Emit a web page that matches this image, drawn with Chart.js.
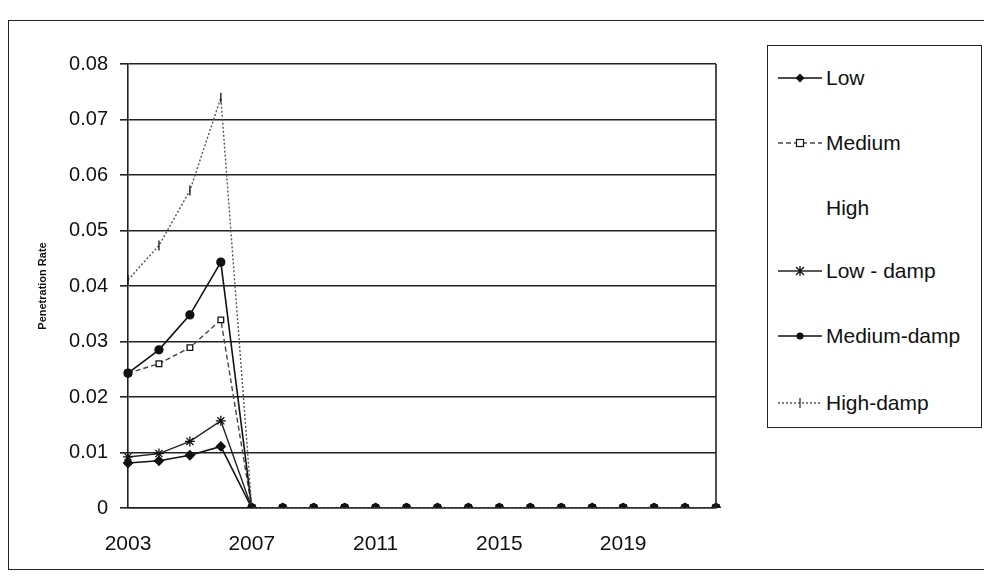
<!DOCTYPE html>
<html>
<head>
<meta charset="utf-8">
<script src="https://cdn.jsdelivr.net/npm/chart.js@4/dist/chart.umd.min.js"></script>
<style>
  html,body{margin:0;padding:0;background:#fff;}
  #wrap{position:relative;width:984px;height:587px;overflow:hidden;background:#fff;}
  #frame{position:absolute;left:8px;top:20px;width:990px;height:550px;border:1.5px solid #222;box-sizing:border-box;}
  #cv{position:absolute;left:0;top:0;}
  #legend{position:absolute;left:767px;top:45px;width:215px;height:383px;border:1.5px solid #222;box-sizing:border-box;background:#fff;font-family:"Liberation Sans",Arial,sans-serif;font-size:21px;color:#111;}
  .item{position:absolute;left:10px;height:24px;display:flex;align-items:center;}
  .item svg{width:44px;height:20px;flex:none;}
  .item span{margin-left:4px;white-space:nowrap;}
</style>
</head>
<body>
<div id="wrap">
  <div id="frame"></div>
  <canvas id="cv" width="984" height="587"></canvas>
  <div id="legend"></div>
</div>
<script>
// ---- data ----
const years = ['2003','2004','2005','2006','2007','2008','2009','2010','2011','2012','2013','2014','2015','2016','2017','2018','2019','2020','2021','2022'];
const low        = [0.0081,0.0085,0.0095,0.0111,0,0,0,0,0,0,0,0,0,0,0,0,0,0,0,0];
const medium     = [0.0243,0.0260,0.0289,0.0339,0,0,0,0,0,0,0,0,0,0,0,0,0,0,0,0];
const high       = [null,null,null,null,0,0,0,0,0,0,0,0,0,0,0,0,0,0,0,0];
const lowDamp    = [0.0092,0.0098,0.0120,0.0157,0,0,0,0,0,0,0,0,0,0,0,0,0,0,0,0];
const mediumDamp = [0.0243,0.0285,0.0348,0.0443,0,0,0,0,0,0,0,0,0,0,0,0,0,0,0,0];
const highDamp   = [0.0411,0.0473,0.0572,0.0739,0,0,0,0,0,0,0,0,0,0,0,0,0,0,0,0];
const yTicks = [0,0.01,0.02,0.03,0.04,0.05,0.06,0.07,0.08];
const xLabelEvery = 4;

const names = ['Low','Medium','High','Low - damp','Medium-damp','High-damp'];
const series = [low, medium, high, lowDamp, mediumDamp, highDamp];
// "High" is drawn in white in the reference (invisible sample in the legend)
const styles = [
  {color:'#111', dash:[], pt:'rectRot', r:4.5, fill:'#111', rot:0, w:1.6, order:2},
  {color:'#444', dash:[5,3], pt:'rect', r:4, fill:'#fff', rot:0, w:1.4, order:5},
  {color:'#ffffff', dash:[], pt:false, r:0, fill:'#ffffff', rot:0, w:3, order:9},
  {color:'#222', dash:[], pt:'star', r:5, fill:'#222', rot:0, w:1.4, order:1},
  {color:'#111', dash:[], pt:'circle', r:4, fill:'#111', rot:0, w:1.6, order:3},
  {color:'#555', dash:[2,2], pt:'line', r:5, fill:'#555', rot:90, w:1.4, order:0}
];

const datasets = series.map((d,i)=>({
  label:names[i], data:d, order:styles[i].order,
  borderColor:styles[i].color, backgroundColor:styles[i].fill,
  borderWidth:styles[i].w, borderDash:styles[i].dash,
  pointStyle:styles[i].pt, pointRadius:styles[i].r, pointRotation:styles[i].rot,
  pointBorderColor:i===2?styles[i].color:'#111',
  pointBorderWidth:1.3, pointBackgroundColor:styles[i].fill,
  tension:0, spanGaps:false, fill:false
}));

const plotBorder = {
  id:'plotBorder',
  afterDraw(chart){
    const {ctx, chartArea:a} = chart;
    ctx.save();
    ctx.strokeStyle='#222'; ctx.lineWidth=1.6;
    ctx.beginPath(); ctx.moveTo(a.right, a.top); ctx.lineTo(a.right, a.bottom); ctx.stroke();
    ctx.restore();
  }
};

new Chart(document.getElementById('cv'), {
  type:'line',
  data:{labels:years, datasets},
  options:{
    responsive:false, animation:false, devicePixelRatio:1,
    layout:{padding:{left:36, right:268, top:64, bottom:19}},
    plugins:{legend:{display:false}, tooltip:{enabled:false}},
    scales:{
      x:{
        offset:false,
        afterFit(s){ s.height = 60; },
        grid:{display:false, drawTicks:false},
        border:{display:true, color:'#222', width:1.6},
        ticks:{autoSkip:false, maxRotation:0, padding:24, color:'#111',
          font:{family:'"Liberation Sans Narrow", "Liberation Sans", Arial, sans-serif', size:21},
          callback(v,i){ return i % xLabelEvery === 0 ? years[i] : ''; }}
      },
      y:{
        min:0, max:0.08,
        afterFit(s){ s.width = 92; },
        afterBuildTicks(s){ s.ticks = yTicks.map(v=>({value:v})); },
        grid:{color:'#222', lineWidth:1.6, tickLength:8, drawTicks:true, tickColor:'#222'},
        border:{display:true, color:'#222', width:1.6},
        ticks:{padding:12, color:'#111',
          font:{family:'"Liberation Sans", Arial, sans-serif', size:20},
          callback(v){ return v===0 ? '0' : v.toFixed(2); }},
        title:{display:true, text:'Penetration Rate', color:'#111', padding:{top:0,bottom:0},
          font:{family:'"Liberation Sans", Arial, sans-serif', size:11, weight:'bold'}}
      }
    }
  },
  plugins:[plotBorder]
});

// ---- HTML legend ----
const legend = document.getElementById('legend');
const tops = [20, 85, 150, 213, 278, 345];
function markerSvg(s){
  if(!s.pt) return '';
  const c=22, y=10;
  if(s.pt==='rectRot') return `<polygon points="${c},${y-4.5} ${c+4.5},${y} ${c},${y+4.5} ${c-4.5},${y}" fill="#111"/>`;
  if(s.pt==='rect') return `<rect x="${c-3.5}" y="${y-3.5}" width="7" height="7" fill="#fff" stroke="#111" stroke-width="1.2"/>`;
  if(s.pt==='star') return `<path d="M${c-4},${y-4}L${c+4},${y+4}M${c+4},${y-4}L${c-4},${y+4}M${c},${y-5}L${c},${y+5}" stroke="#111" stroke-width="1.3"/>`;
  if(s.pt==='circle') return `<circle cx="${c}" cy="${y}" r="3.5" fill="#111"/>`;
  if(s.pt==='line') return `<path d="M${c},${y-5}L${c},${y+5}" stroke="#333" stroke-width="1.3"/>`;
  return '';
}
names.forEach((n,i)=>{
  const s = styles[i];
  const div = document.createElement('div');
  div.className='item'; div.style.top = tops[i]+'px';
  const line = s.pt ? `<line x1="0" y1="10" x2="44" y2="10" stroke="${s.color}" stroke-width="${s.w}" stroke-dasharray="${s.dash.join(' ')}"/>` : '';
  div.innerHTML = `<svg viewBox="0 0 44 20">${line}${markerSvg(s)}</svg><span>${n}</span>`;
  legend.appendChild(div);
});
</script>
</body>
</html>
